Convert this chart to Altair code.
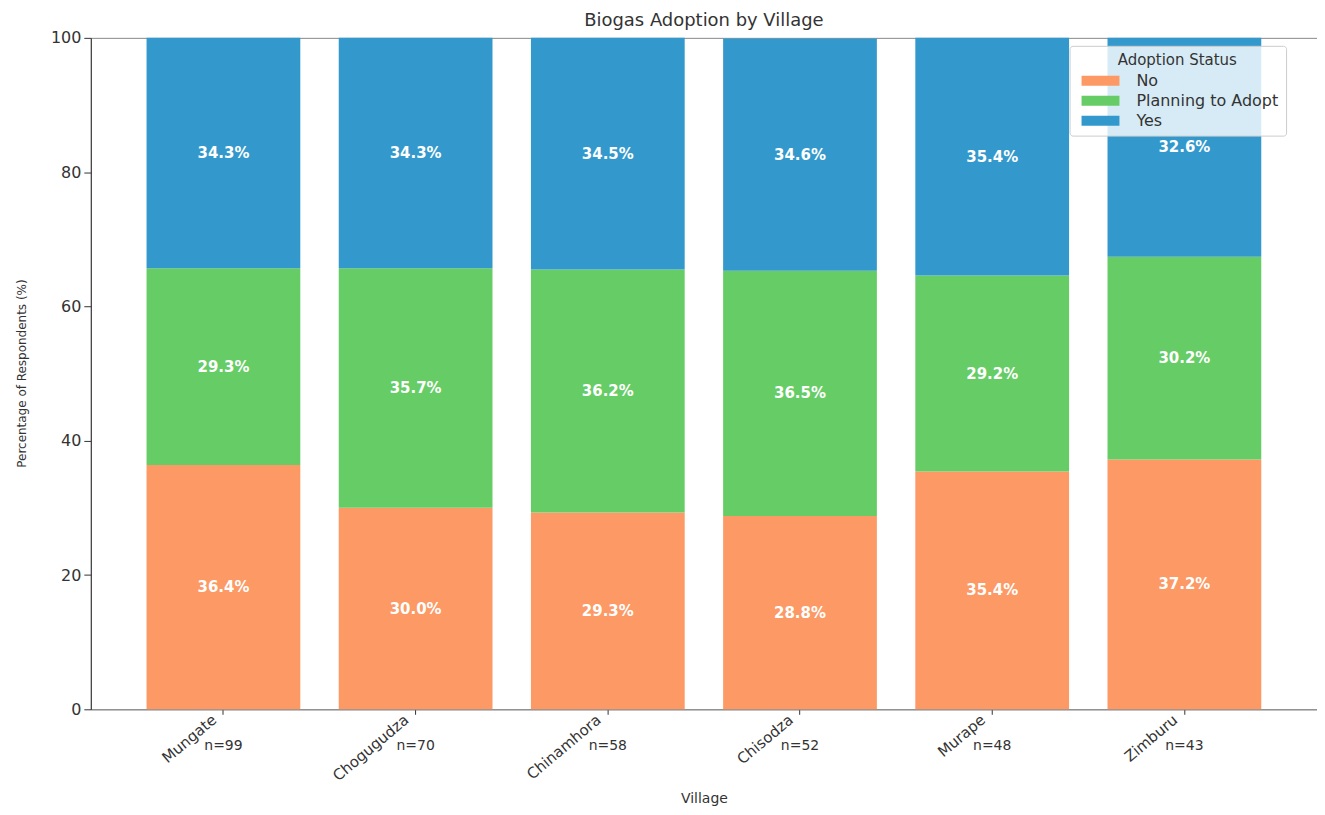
import altair as alt
import pandas as pd

villages = ["Mungate", "Chogugudza", "Chinamhora", "Chisodza", "Murape", "Zimburu"]
n_resp = [99, 70, 58, 52, 48, 43]
statuses = ["No", "Planning to Adopt", "Yes"]
pct_no = [36.4, 30.0, 29.3, 28.8, 35.4, 37.2]
pct_plan = [29.3, 35.7, 36.2, 36.5, 29.2, 30.2]
pct_yes = [34.3, 34.3, 34.5, 34.6, 35.4, 32.6]
colors = ["#fc9964", "#66cc66", "#3399cc"]

rows = []
for i, v in enumerate(villages):
    for j, (s, vals) in enumerate(zip(statuses, [pct_no, pct_plan, pct_yes])):
        rows.append({"village": v, "status": s, "order": j, "pct": vals[i]})
df = pd.DataFrame(rows)
ndf = pd.DataFrame({"village": villages, "label": [f"n={n}" for n in n_resp]})

FONT = "DejaVu Sans"
xscale = alt.Scale(domain=villages, paddingInner=0.2, paddingOuter=0.29)
yscale = alt.Scale(domain=[0, 100], nice=False)

base = alt.Chart(df).transform_stack(
    stack="pct", groupby=["village"], sort=[alt.SortField("order")], as_=["y0", "y1"]
).transform_calculate(
    mid="(datum.y0 + datum.y1) / 2",
    txt="format(datum.pct, '.1f') + '%'",
)

bars = base.mark_bar().encode(
    x=alt.X("village:N", scale=xscale, sort=villages,
            axis=alt.Axis(title="Village", labelAngle=-40, labelAlign="right",
                          labelBaseline="middle", labelFontSize=15, labelColor="#333",
                          labelPadding=3, labelOffset=-9, tickSize=5, tickColor="#333",
                          domainColor="#888", titleFontSize=14, titleFontWeight="normal",
                          titleColor="#333", titleY=89, titleBaseline="middle")),
    y=alt.Y("y0:Q", scale=yscale,
            axis=alt.Axis(title="Percentage of Respondents (%)", values=[0, 20, 40, 60, 80, 100],
                          grid=False, labelFontSize=16, labelColor="#333", tickSize=7,
                          labelPadding=3,
                          tickColor="#333", domainColor="#333", titleFontSize=12,
                          titleFontWeight="normal", titleColor="#333",
                          titleX=-69, titleY=336, titleAngle=-90,
                          titleAlign="center", titleBaseline="middle")),
    y2="y1:Q",
    color=alt.Color("status:N", scale=alt.Scale(domain=statuses, range=colors),
                    legend=alt.Legend(title="Adoption Status", orient="none",
                                      legendX=981, legendY=8, titleFontSize=15,
                                      titleFontWeight="normal", titleColor="#333",
                                      titleAnchor="middle", labelFontSize=16,
                                      labelColor="#333", titlePadding=3,
                                      symbolType="M-1.9,-0.5L1.9,-0.5L1.9,0.5L-1.9,0.5Z",
                                      symbolSize=400, symbolStrokeWidth=0,
                                      symbolOffset=14, labelOffset=26,
                                      fillColor="rgba(255,255,255,0.8)",
                                      strokeColor="#cccccc", cornerRadius=3,
                                      padding=7, rowPadding=2)),
    order=alt.Order("order:Q"),
)

labels = base.mark_text(color="white", fontWeight="bold", fontSize=15, font=FONT).encode(
    x=alt.X("village:N", scale=xscale, sort=villages),
    y=alt.Y("mid:Q", scale=yscale),
    text="txt:N",
)

nlabels = alt.Chart(ndf).mark_text(fontSize=14, color="#333", font=FONT, baseline="middle").encode(
    x=alt.X("village:N", scale=xscale, sort=villages),
    y=alt.value(710),
    text="label:N",
)

chart = alt.layer(bars, labels, nlabels).properties(
    width=1229, height=673,
    title=alt.Title("Biogas Adoption by Village", fontSize=18, fontWeight="normal",
                    color="#333", font=FONT, anchor="middle", offset=0),
    autosize=alt.AutoSizeParams(type="none"),
    padding={"left": 83, "top": 29, "right": 0, "bottom": 97},
).configure(font=FONT).configure_view(stroke="#888", strokeWidth=1)

chart.save("out.html", embed_options={"renderer": "svg", "actions": False})
